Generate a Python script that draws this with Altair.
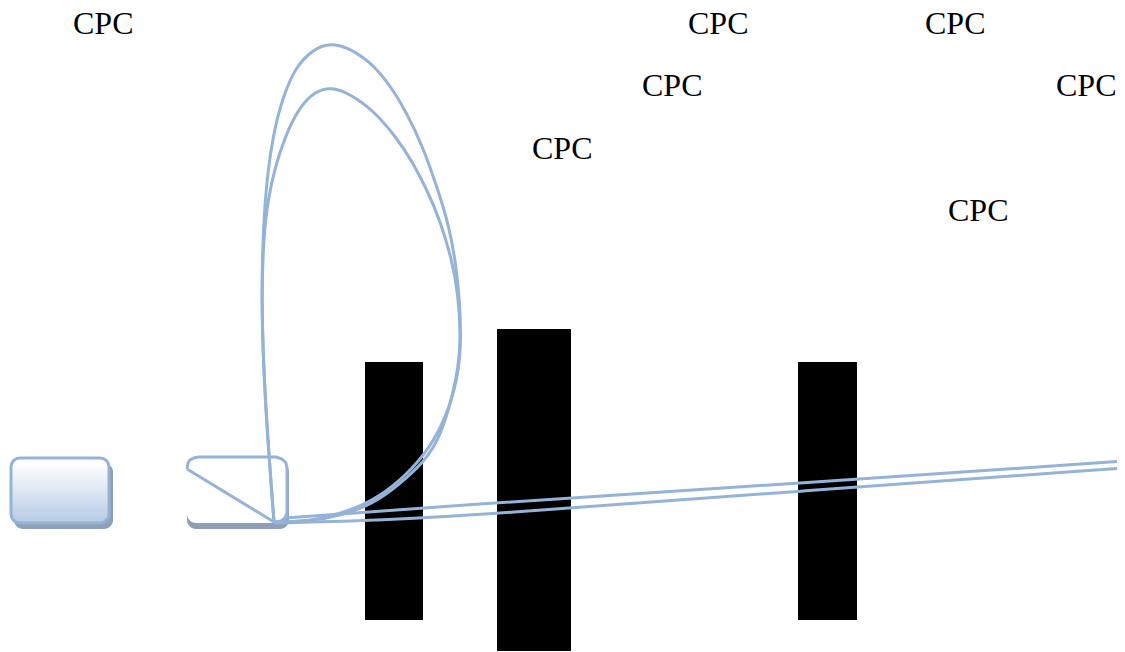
import altair as alt
import pandas as pd

# Picture coordinates are the data domain; the scales map them onto the plot area.
label_x = [73, 688, 925, 642, 1056, 532, 948]
label_y = [34, 34, 34, 96, 96, 159, 221]
labels = ["CPC"] * 7

bar_left = [365, 497, 798]
bar_right = [423, 571, 857]
bar_top = [362, 329, 362]
bar_bottom = [620, 651, 620]

outer_x = [274, 265, 261, 264, 273, 283, 295, 312, 332, 363, 387, 407, 423, 438, 448, 457, 462, 458, 444, 424, 400, 373, 340, 310, 285]
outer_y = [522, 403, 300, 200, 133, 97, 68, 50, 41, 55, 80, 113, 147, 190, 222, 267, 335, 380, 423, 456, 481, 501, 514, 521, 522]

inner_x = [274, 265, 261, 264, 268, 275, 285, 298, 315, 332, 350, 373, 397, 413, 427, 440, 452, 458, 461, 458, 441, 423, 400, 373, 340, 310, 285]
inner_y = [522, 403, 300, 232, 200, 167, 137, 109, 91, 87, 94, 110, 138, 163, 190, 220, 260, 293, 337, 375, 438, 463, 484, 504, 516, 521, 522]

upper_ray_x = [285, 480, 800, 1125]
upper_ray_y = [518, 504, 483, 461]
lower_ray_x = [274, 365, 480, 800, 1125]
lower_ray_y = [523, 521, 515, 491, 468]

outline_x = [187, 188, 190, 194, 199, 276, 282, 286, 287, 287, 285, 281, 274, 187]
outline_y = [469, 463, 460, 458, 457, 457, 459, 463, 468, 513, 518, 521, 522, 469]

box_left = [11, 187]
box_right = [109, 287]
box_top = [458, 457]
box_bottom = [523, 523]
shadow_left = [14, 187]
shadow_right = [113, 289]
shadow_top = [463, 463]
shadow_bottom = [529, 529]

STROKE = "#95b3d7"
SHADOW = "#8f9fb5"

X = alt.X("x:Q", axis=None, scale=alt.Scale(domain=[8, 1117], nice=False, zero=False))
Y = alt.Y("y:Q", axis=None, scale=alt.Scale(domain=[652, 8], nice=False, zero=False))


def rect_df(l, r, t, b):
    return pd.DataFrame({"x": l, "x2": r, "y": t, "y2": b})


def path_df(xs, ys):
    return pd.DataFrame({"x": xs, "y": ys, "i": range(len(xs))})


def rects(df, **mark):
    return alt.Chart(df).mark_rect(**mark).encode(x=X, x2="x2:Q", y=Y, y2="y2:Q")


def path(xs, ys, interp="linear"):
    return alt.Chart(path_df(xs, ys)).mark_line(
        color=STROKE, strokeWidth=3, interpolate=interp, clip=True
    ).encode(x=X, y=Y, order="i:Q")


gradient = alt.LinearGradient(
    gradient="linear",
    stops=[alt.GradientStop(color="#ffffff", offset=0.08), alt.GradientStop(color="#b9cde5", offset=0.95)],
    x1=0, x2=0, y1=0, y2=1,
)

shadows = rects(rect_df(shadow_left, shadow_right, shadow_top, shadow_bottom), color=SHADOW, cornerRadius=9)
box_a = rects(rect_df(box_left[:1], box_right[:1], box_top[:1], box_bottom[:1]),
              color=gradient, stroke=STROKE, strokeWidth=3, cornerRadius=9)
box_b = rects(rect_df(box_left[1:], box_right[1:], box_top[1:], box_bottom[1:]), color="#ffffff", cornerRadius=9)
bars = rects(rect_df(bar_left, bar_right, bar_top, bar_bottom), color="#000000")

text = alt.Chart(pd.DataFrame({"x": label_x, "y": label_y, "t": labels})).mark_text(
    font="Liberation Serif", fontSize=32, align="left", baseline="alphabetic", color="#000000"
).encode(x=X, y=Y, text="t:N")

chart = alt.layer(
    shadows, box_a, box_b, bars,
    path(outline_x, outline_y),
    path(outer_x, outer_y, "basis"),
    path(inner_x, inner_y, "basis"),
    path(upper_ray_x, upper_ray_y),
    path(lower_ray_x, lower_ray_y, "basis"),
    text,
).properties(width=1109, height=644, padding=0, background="#ffffff").configure_view(stroke=None)

chart.save("out.html", embed_options={"renderer": "svg", "actions": False})
